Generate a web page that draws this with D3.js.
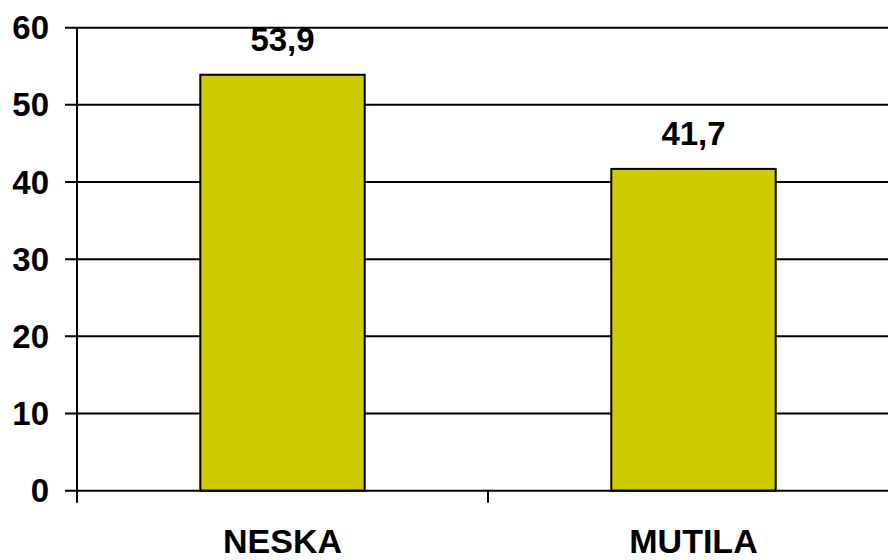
<!DOCTYPE html>
<html>
<head>
<meta charset="utf-8">
<script src="https://cdn.jsdelivr.net/npm/d3@7"></script>
<style>
  body { margin: 0; background: #fff; }
  text { font-family: "Liberation Sans", Arial, sans-serif; font-weight: bold; fill: #000; }
</style>
</head>
<body>
<div id="graph"></div>
<script>
var categories = ["NESKA", "MUTILA"]
var values     = [53.9, 41.7]
var valueLabels = ["53,9", "41,7"]
var yTicks     = [0, 10, 20, 30, 40, 50, 60]

var width = 888, height = 560
var plotLeft = 77, plotRight = 899, plotTop = 27.7, plotBottom = 490.7

var svg = d3.select('#graph').append('svg')
  .attr('width', width)
  .attr('height', height)

var x = d3.scaleBand()
  .domain(categories)
  .range([plotLeft, plotRight])
  .paddingInner(0.6)
  .paddingOuter(0.3)

var y = d3.scaleLinear()
  .domain([0, 60])
  .range([plotBottom, plotTop])

// gridlines (plus the little tick stub left of the axis)
svg.selectAll('line.grid').data(yTicks.filter(d => d > 0))
  .enter().append('line')
  .attr('class', 'grid')
  .attr('x1', plotLeft - 12).attr('x2', width)
  .attr('y1', d => y(d)).attr('y2', d => y(d))
  .attr('stroke', '#000').attr('stroke-width', 2)

// bars
svg.selectAll('rect.bar').data(values)
  .enter().append('rect')
  .attr('class', 'bar')
  .attr('x', (d, i) => x(categories[i]))
  .attr('y', d => y(d))
  .attr('width', x.bandwidth())
  .attr('height', d => y(0) - y(d))
  .attr('fill', '#cccc00')
  .attr('stroke', '#000').attr('stroke-width', 2)

// x axis line with ticks between categories
svg.append('line')
  .attr('x1', plotLeft - 12).attr('x2', width)
  .attr('y1', y(0)).attr('y2', y(0))
  .attr('stroke', '#000').attr('stroke-width', 2)

var step = x.step()
svg.selectAll('line.xtick').data(d3.range(categories.length))
  .enter().append('line')
  .attr('class', 'xtick')
  .attr('x1', i => plotLeft + i * step).attr('x2', i => plotLeft + i * step)
  .attr('y1', y(0)).attr('y2', y(0) + 12)
  .attr('stroke', '#000').attr('stroke-width', 2)

// y axis
svg.append('line')
  .attr('x1', plotLeft).attr('x2', plotLeft)
  .attr('y1', y(60)).attr('y2', y(0))
  .attr('stroke', '#000').attr('stroke-width', 2)

// y tick labels
svg.selectAll('text.ytick').data(yTicks)
  .enter().append('text')
  .attr('class', 'ytick')
  .attr('x', 49)
  .attr('y', d => y(d) + 11.5)
  .attr('text-anchor', 'end')
  .attr('font-size', '33px')
  .text(d => d)

// value labels
svg.selectAll('text.val').data(values)
  .enter().append('text')
  .attr('class', 'val')
  .attr('x', (d, i) => x(categories[i]) + x.bandwidth() / 2)
  .attr('y', d => y(d) - 24)
  .attr('text-anchor', 'middle')
  .attr('font-size', '33px')
  .text((d, i) => valueLabels[i])

// category labels
svg.selectAll('text.cat').data(categories)
  .enter().append('text')
  .attr('class', 'cat')
  .attr('x', d => x(d) + x.bandwidth() / 2)
  .attr('y', 553)
  .attr('text-anchor', 'middle')
  .attr('font-size', '34px')
  .text(d => d)
</script>
</body>
</html>
